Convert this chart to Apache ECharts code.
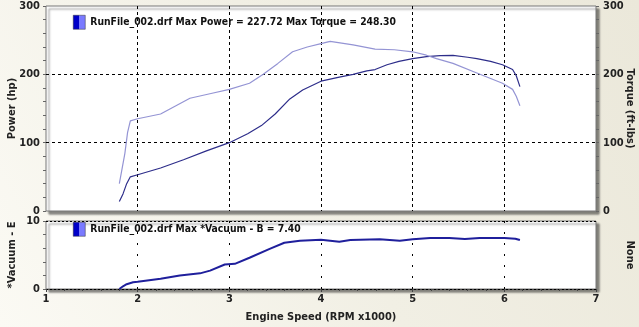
<!DOCTYPE html>
<html>
<head>
<meta charset="utf-8">
<script src="https://cdn.jsdelivr.net/npm/echarts@6/dist/echarts.min.js"></script>
<style>html,body{margin:0;padding:0;}#c{width:639px;height:327px;}</style>
</head>
<body>
<div id="c"></div>
<script>
var powerRpm = [1.80,1.84,1.88,1.92,2.00,2.25,2.50,2.75,3.00,3.20,3.35,3.50,3.66,3.80,4.00,4.20,4.35,4.50,4.59,4.72,4.85,5.00,5.15,5.30,5.44,5.60,5.70,5.85,5.98,6.09,6.13,6.17];
var powerHp  = [14,25,40,50,53,63,75,88,100,113,125,142,164,177,190,196,200,205,207,214,219,223,226,227.5,227.7,225,223,219,214,207,198,182];
var torqueRpm = [1.80,1.83,1.86,1.89,1.92,2.00,2.25,2.57,2.80,3.00,3.22,3.37,3.53,3.69,3.85,4.00,4.10,4.35,4.59,4.80,5.00,5.15,5.26,5.44,5.70,5.98,6.09,6.13,6.17];
var torqueFt  = [40,62,84,115,132,135,142,165,172,178,187,200,216,233,240,245,248.3,243,237,236,233,228,223,216,202,187,178,168,154];
var vacRpm = [1.80,1.84,1.88,1.95,2.00,2.25,2.46,2.68,2.79,2.95,3.06,3.22,3.44,3.60,3.77,4.00,4.20,4.32,4.64,4.86,5.00,5.19,5.40,5.57,5.73,6.00,6.12,6.17];
var vacVal = [0,0.4,0.7,1.0,1.05,1.5,2.0,2.3,2.7,3.6,3.7,4.6,5.9,6.8,7.1,7.25,6.95,7.2,7.3,7.1,7.3,7.5,7.5,7.35,7.5,7.5,7.4,7.2];
var topLegendText = 'RunFile_002.drf Max Power = 227.72 Max Torque = 248.30';
var botLegendText = 'RunFile_002.drf Max *Vacuum - B = 7.40';

function pairs(xs, ys){ return xs.map(function(x,i){ return [x, ys[i]]; }); }

var FONT = '"DejaVu Sans Condensed", "DejaVu Sans"';
var lbl = {fontFamily: FONT, fontWeight: 'bold', fontSize: 11, color: '#222'};
var nameStyle = {fontFamily: FONT, fontWeight: 'bold', fontSize: 11, color: '#222'};
var legText = {fontFamily: FONT, fontWeight: 'bold', fontSize: 10.3, color: '#111'};
var iconColor = {type:'linear', x:0, y:0, x2:1, y2:0, colorStops:[{offset:0,color:'#0000c8'},{offset:0.5,color:'#0000c8'},{offset:0.5,color:'#7a7aff'},{offset:1,color:'#7a7aff'}]};

var chart = echarts.init(document.getElementById('c'), null, {renderer:'canvas'});
chart.setOption({
  animation: false,
  backgroundColor: {type:'linear', x:0, y:1, x2:1, y2:0, colorStops:[{offset:0,color:'#fbfaf4'},{offset:0.5,color:'#f1efe4'},{offset:1,color:'#ebe8da'}]},
  grid: [
    {left: 46, right: 43, top: 6, height: 205, outerBoundsMode: 'none', containLabel: false, show: true, backgroundColor: '#fff', borderColor: '#777', borderWidth: 1,
     shadowColor: 'rgba(0,0,0,0.45)', shadowBlur: 2, shadowOffsetX: 3, shadowOffsetY: 3},
    {left: 46, right: 43, top: 221, height: 68, outerBoundsMode: 'none', containLabel: false, show: true, backgroundColor: '#fff', borderColor: '#777', borderWidth: 1,
     shadowColor: 'rgba(0,0,0,0.45)', shadowBlur: 2, shadowOffsetX: 3, shadowOffsetY: 3}
  ],
  legend: [
    {left: 73, top: 15, padding: 0, itemWidth: 12, itemHeight: 14, itemGap: 4, icon: 'rect',
     data: [{name: 'Power', itemStyle: {color: iconColor, borderColor: '#333', borderWidth: 0.5}}],
     formatter: function(){ return topLegendText; }, textStyle: legText, selectedMode: false},
    {left: 73, top: 222, padding: 0, itemWidth: 12, itemHeight: 14, itemGap: 4, icon: 'rect',
     data: [{name: 'Vacuum', itemStyle: {color: iconColor, borderColor: '#333', borderWidth: 0.5}}],
     formatter: function(){ return botLegendText; }, textStyle: legText, selectedMode: false}
  ],
  xAxis: [
    {gridIndex: 0, type: 'value', min: 1, max: 7, interval: 1,
     axisLine: {show: false}, axisTick: {show: false}, axisLabel: {show: false},
     splitLine: {show: true, showMinLine: false, showMaxLine: false, lineStyle: {color: '#000', type: [3,3], width: 1}}},
    {gridIndex: 1, type: 'value', min: 1, max: 7, interval: 1,
     axisLine: {show: true, lineStyle: {color: '#000', type: [2,2], width: 1}},
     axisTick: {show: true, length: 3, inside: false, lineStyle: {color: '#444'}},
     minorTick: {show: true, splitNumber: 5, length: 2, lineStyle: {color: '#444'}},
     axisLabel: Object.assign({margin: 5}, lbl),
     name: 'Engine Speed (RPM x1000)', nameLocation: 'middle', nameGap: 23, nameMoveOverlap: false, nameTextStyle: nameStyle,
     splitLine: {show: true, showMinLine: false, showMaxLine: false, lineStyle: {color: '#000', type: [2,9], width: 1}}}
  ],
  yAxis: [
    {gridIndex: 0, type: 'value', position: 'left', min: 0, max: 300, interval: 100,
     axisLine: {show: false}, axisTick: {show: true, length: 3, lineStyle: {color: '#666'}},
     minorTick: {show: true, splitNumber: 5, length: 3, lineStyle: {color: '#666'}},
     axisLabel: Object.assign({margin: 6}, lbl),
     name: 'Power (hp)', nameLocation: 'middle', nameGap: 28, nameMoveOverlap: false, nameTextStyle: nameStyle,
     splitLine: {show: true, showMinLine: false, showMaxLine: false, lineStyle: {color: '#000', type: [3,3], width: 1}}},
    {gridIndex: 0, type: 'value', position: 'right', min: 0, max: 300, interval: 100,
     axisLine: {show: false}, axisTick: {show: true, length: 3, lineStyle: {color: '#666'}},
     minorTick: {show: true, splitNumber: 5, length: 3, lineStyle: {color: '#666'}},
     axisLabel: Object.assign({margin: 7}, lbl),
     name: 'Torque (ft-lbs)', nameLocation: 'middle', nameGap: 28, nameMoveOverlap: false, nameRotate: -90, nameTextStyle: nameStyle,
     splitLine: {show: false}},
    {gridIndex: 1, type: 'value', position: 'left', min: 0, max: 10, interval: 10,
     axisLine: {show: false}, axisTick: {show: true, length: 3, lineStyle: {color: '#666'}},
     minorTick: {show: true, splitNumber: 5, length: 3, lineStyle: {color: '#666'}},
     axisLabel: Object.assign({margin: 6}, lbl),
     name: '*Vacuum - E', nameLocation: 'middle', nameGap: 28, nameMoveOverlap: false, nameTextStyle: nameStyle,
     splitLine: {show: true, lineStyle: {color: '#000', type: [2,2], width: 1}}},
    {gridIndex: 1, type: 'value', position: 'right', min: 0, max: 10, interval: 10,
     axisLine: {show: false}, axisTick: {show: false}, axisLabel: {show: false},
     name: 'None', nameLocation: 'middle', nameGap: 28, nameMoveOverlap: false, nameRotate: -90, nameTextStyle: nameStyle,
     splitLine: {show: false}}
  ],
  series: [
    {name: 'Power', type: 'line', xAxisIndex: 0, yAxisIndex: 0, data: pairs(powerRpm, powerHp),
     showSymbol: false, lineStyle: {color: '#2d2d8a', width: 1.2}, itemStyle: {color: '#2d2d8a'}},
    {name: 'Torque', type: 'line', xAxisIndex: 0, yAxisIndex: 1, data: pairs(torqueRpm, torqueFt),
     showSymbol: false, lineStyle: {color: '#9494d4', width: 1.2}, itemStyle: {color: '#9494d4'}},
    {name: 'Vacuum', type: 'line', xAxisIndex: 1, yAxisIndex: 2, data: pairs(vacRpm, vacVal),
     showSymbol: false, lineStyle: {color: '#1f1f9c', width: 2}, itemStyle: {color: '#1f1f9c'}}
  ]
});
</script>
</body>
</html>
